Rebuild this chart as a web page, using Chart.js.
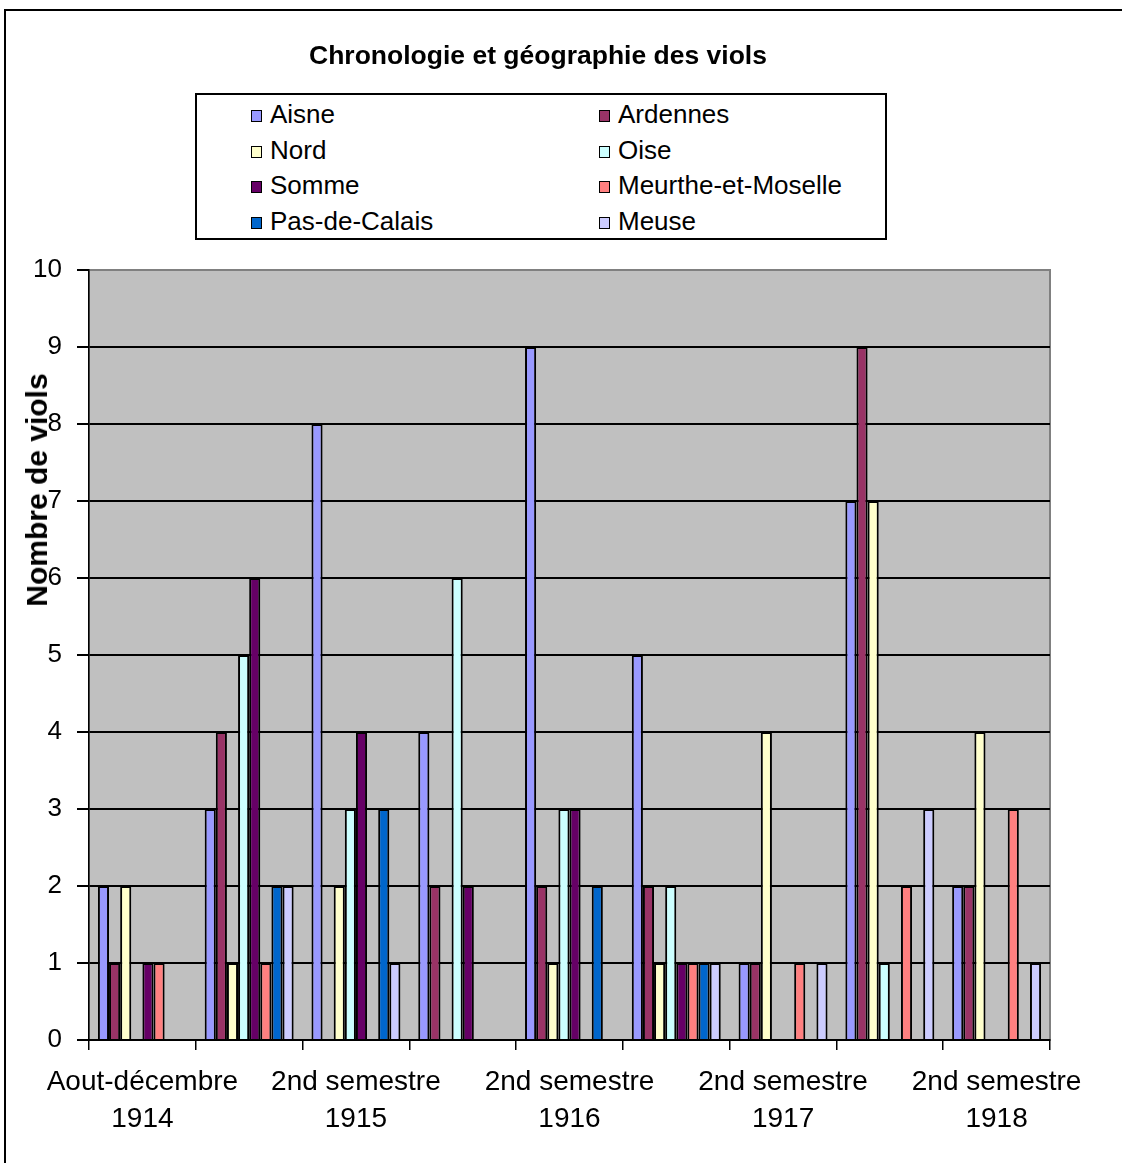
<!DOCTYPE html>
<html lang="fr">
<head>
    <meta charset="UTF-8">
    <title>Chronologie et géographie des viols</title>
    <style>
        * {
            margin: 0;
            padding: 0;
        }
        body {
            width: 1122px;
            height: 1163px;
            overflow: hidden;
            position: relative;
            background: #fff;
            font-family: 'Liberation Sans', Arial, sans-serif;
            color: #000;
        }
        /* cadre du graphique (seuls les bords gauche et haut sont visibles) */
        .cadre {
            position: absolute;
            left: 4px;
            top: 9px;
            width: 1300px;
            height: 1300px;
            border: 2px solid #000;
        }
        #graph {
            position: absolute;
            left: 0;
            top: 0;
        }
        #titre {
            position: absolute;
            left: 0;
            top: 40px;
            width: 1076px;
            text-align: center;
            font-weight: bold;
            font-size: 26.5px;
        }
        #legende {
            position: absolute;
            left: 195px;
            top: 93px;
            width: 692px;
            height: 147px;
            border: 2px solid #000;
            background: #fff;
            display: grid;
            grid-template-columns: 348px 1fr;
            padding: 2px 0 0 54px;
            box-sizing: border-box;
            font-size: 26px;
            line-height: 35.5px;
        }
        #legende span.carre {
            display: inline-block;
            width: 9px;
            height: 10px;
            border: 1.5px solid #000;
            margin-right: 8px;
            vertical-align: 1px;
        }
        #titreY {
            position: absolute;
            left: 37px;
            top: 490px;
            transform: translate(-50%, -50%) rotate(-90deg);
            font-weight: bold;
            font-size: 30px;
            white-space: nowrap;
        }
    </style>
</head>
<body>
    <div class="cadre"></div>
    <canvas id="graph" width="1122" height="1163"></canvas>
    <div id="titre">Chronologie et géographie des viols</div>
    <div id="legende"></div>
    <div id="titreY">Nombre de viols</div>

    <script src="https://cdn.jsdelivr.net/npm/chart.js"></script>
    <script>
        // Données
        const periodes = [
            'Aout-décembre 1914', '1er semestre 1915', '2nd semestre 1915',
            '1er semestre 1916', '2nd semestre 1916', '1er semestre 1917',
            '2nd semestre 1917', '1er semestre 1918', '2nd semestre 1918'
        ];
        const aisne    = [2, 3, 8, 4, 9, 5, 1, 7, 2];
        const ardennes = [1, 4, 0, 2, 2, 2, 1, 9, 2];
        const nord     = [2, 1, 2, 0, 1, 1, 4, 7, 4];
        const oise     = [0, 5, 3, 6, 3, 2, 0, 1, 0];
        const somme    = [1, 6, 4, 2, 3, 1, 0, 0, 0];
        const meurthe  = [1, 1, 0, 0, 0, 1, 1, 2, 3];
        const pasDeCalais = [0, 2, 3, 0, 2, 1, 0, 0, 0];
        const meuse    = [0, 2, 1, 0, 0, 1, 1, 3, 1];
        const yTicks = [0, 1, 2, 3, 4, 5, 6, 7, 8, 9, 10];

        const police = "'Liberation Sans', Arial, sans-serif";

        const series = [
            { label: 'Aisne', data: aisne, couleur: '#9999FF' },
            { label: 'Ardennes', data: ardennes, couleur: '#993366' },
            { label: 'Nord', data: nord, couleur: '#FFFFCC' },
            { label: 'Oise', data: oise, couleur: '#CCFFFF' },
            { label: 'Somme', data: somme, couleur: '#660066' },
            { label: 'Meurthe-et-Moselle', data: meurthe, couleur: '#FF8080' },
            { label: 'Pas-de-Calais', data: pasDeCalais, couleur: '#0066CC' },
            { label: 'Meuse', data: meuse, couleur: '#CCCCFF' }
        ];

        // Légende en deux colonnes
        const legende = document.getElementById('legende');
        series.forEach(s => {
            const item = document.createElement('div');
            item.innerHTML = '<span class="carre" style="background:' + s.couleur + '"></span>' + s.label;
            legende.appendChild(item);
        });

        // Fond gris et bordure de la zone de tracé
        const fondZone = {
            id: 'fondZone',
            beforeDraw(chart) {
                const a = chart.chartArea;
                const ctx = chart.ctx;
                ctx.save();
                ctx.fillStyle = '#C0C0C0';
                ctx.fillRect(a.left, a.top, a.right - a.left, a.bottom - a.top);
                ctx.strokeStyle = '#808080';
                ctx.lineWidth = 2;
                ctx.strokeRect(a.left, a.top, a.right - a.left, a.bottom - a.top);
                ctx.restore();
            }
        };

        const ctx = document.getElementById('graph').getContext('2d');
        new Chart(ctx, {
            type: 'bar',
            data: {
                labels: periodes,
                datasets: series.map(s => ({
                    label: s.label,
                    data: s.data,
                    backgroundColor: s.couleur,
                    borderColor: '#000',
                    borderWidth: 2,
                    categoryPercentage: 0.833,
                    barPercentage: 1.0
                }))
            },
            options: {
                responsive: false,
                animation: false,
                devicePixelRatio: 1,
                layout: {
                    padding: { left: 0, top: 270, right: 72, bottom: 0 }
                },
                plugins: {
                    legend: { display: false },
                    title: { display: false },
                    tooltip: { enabled: false }
                },
                scales: {
                    x: {
                        grid: {
                            display: true,
                            drawOnChartArea: false,
                            drawTicks: true,
                            tickLength: 10,
                            color: '#000',
                            lineWidth: 1.5
                        },
                        border: { color: '#000', width: 2 },
                        ticks: {
                            color: '#000',
                            font: { family: police, size: 28, lineHeight: 1.32 },
                            maxRotation: 0,
                            autoSkip: false,
                            padding: 14,
                            callback: function (v, i) {
                                // une étiquette sur deux, sur deux lignes
                                if (i % 2 !== 0) return '';
                                const t = periodes[i];
                                const k = t.lastIndexOf(' ');
                                return [t.slice(0, k), t.slice(k + 1)];
                            }
                        },
                        afterFit: s => { s.height = 123; }
                    },
                    y: {
                        min: 0,
                        max: 10,
                        afterBuildTicks: s => { s.ticks = yTicks.map(v => ({ value: v })); },
                        grid: {
                            color: c => (c.tick && c.tick.value === 10) ? '#808080' : '#000',
                            lineWidth: 2,
                            tickLength: 12,
                            tickColor: '#000'
                        },
                        border: { color: '#000', width: 1.5 },
                        ticks: {
                            color: '#000',
                            font: { family: police, size: 26 },
                            padding: 15
                        },
                        afterFit: s => { s.width = 89; }
                    }
                }
            },
            plugins: [fondZone]
        });
    </script>
</body>
</html>
